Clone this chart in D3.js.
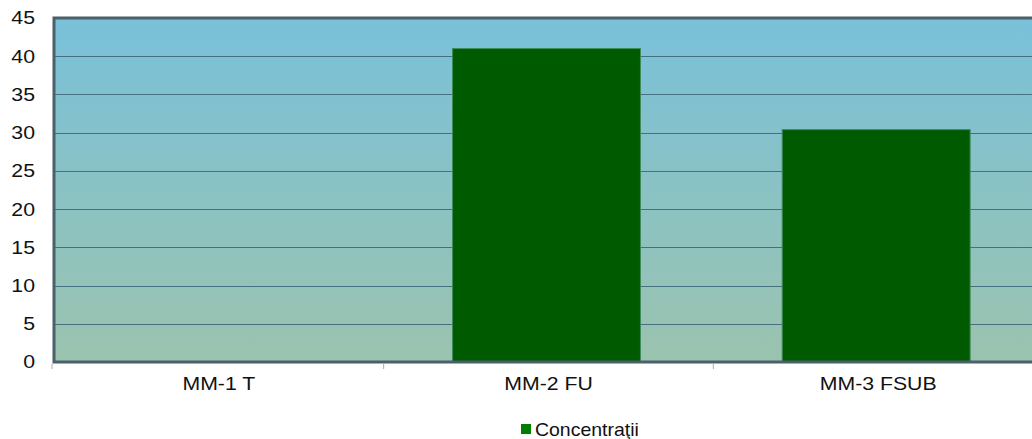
<!DOCTYPE html>
<html>
<head>
<meta charset="utf-8">
<script src="https://d3js.org/d3.v7.min.js"></script>
<style>
  body { margin: 0; background: #fff; }
  text { font-family: "Liberation Sans", Arial, sans-serif; }
</style>
</head>
<body>
<script>
// chart data
var categories = ["MM-1 T", "MM-2 FU", "MM-3 FSUB"];
var values = [0, 41, 30.4];
var yTicks = [0, 5, 10, 15, 20, 25, 30, 35, 40, 45];
var seriesName = "Concentraţii";

var width = 1032, height = 439;
var plotLeft = 54, plotTop = 18, plotRight = 1043, plotBottom = 362;
var stretch = 1.15; // text in the original looks a bit wide

var svg = d3.select("body").append("svg")
  .attr("width", width)
  .attr("height", height);

var defs = svg.append("defs");
var grad = defs.append("linearGradient")
  .attr("id", "bg").attr("x1", 0).attr("y1", 0).attr("x2", 0).attr("y2", 1);
grad.append("stop").attr("offset", "0%").attr("stop-color", "#79c1da");
grad.append("stop").attr("offset", "100%").attr("stop-color", "#9bc3ae");

var x = d3.scaleBand().domain(categories).range([plotLeft - 2, plotRight - 2]).paddingInner(0.43).paddingOuter(0.215);
var band = d3.scaleBand().domain(categories).range([plotLeft, plotRight]);
var y = d3.scaleLinear().domain([0, 45]).range([plotBottom, plotTop]);

// plot background
svg.append("rect")
  .attr("x", plotLeft).attr("y", plotTop)
  .attr("width", plotRight - plotLeft).attr("height", plotBottom - plotTop)
  .attr("fill", "url(#bg)");

// gridlines
svg.append("g").selectAll("line")
  .data(yTicks.filter(function(d) { return d > 0 && d < 45; }))
  .enter().append("line")
  .attr("x1", plotLeft).attr("x2", plotRight)
  .attr("y1", function(d) { return Math.round(y(d)) + 0.5; })
  .attr("y2", function(d) { return Math.round(y(d)) + 0.5; })
  .attr("stroke", "#46707f").attr("stroke-width", 1.2);

// bars
svg.append("g").selectAll("rect")
  .data(values)
  .enter().append("rect")
  .attr("x", function(d, i) { return x(categories[i]); })
  .attr("y", function(d) { return y(d); })
  .attr("width", x.bandwidth())
  .attr("height", function(d) { return plotBottom - y(d); })
  .attr("fill", "#005a00")
  .attr("stroke", function(d) { return d > 0 ? "#3f8a5a" : "none"; })
  .attr("stroke-width", 1);

// frame: left, top, bottom
svg.append("path")
  .attr("d", "M" + plotRight + "," + plotTop + "H" + plotLeft + "V" + plotBottom + "H" + plotRight)
  .attr("fill", "none")
  .attr("stroke", "#4b606b")
  .attr("stroke-width", 3);

// y axis labels
var yAxis = d3.axisLeft(y).tickValues(yTicks).tickSize(0).tickPadding(0);
var gy = svg.append("g").attr("transform", "translate(" + plotLeft + ",0)").call(yAxis);
gy.select(".domain").remove();
gy.selectAll("text")
  .attr("x", 0)
  .attr("transform", "translate(-19,0) scale(" + stretch + ",1)")
  .attr("font-size", 18.5)
  .attr("fill", "#111")
  .style("font-family", "'Liberation Sans', Arial, sans-serif");

// x axis
var gx = svg.append("g").attr("transform", "translate(0," + (plotBottom + 2) + ")");
gx.selectAll("line")
  .data(categories.slice(1))
  .enter().append("line")
  .attr("x1", function(d) { return band(d); })
  .attr("x2", function(d) { return band(d); })
  .attr("y1", 0).attr("y2", 5)
  .attr("stroke", "#aaa");
gx.append("line").attr("x1", plotLeft - 2).attr("x2", plotLeft - 2).attr("y1", 0).attr("y2", 5).attr("stroke", "#aaa");
gx.selectAll("text")
  .data(categories)
  .enter().append("text")
  .attr("transform", function(d) {
    return "translate(" + (band(d) + band.bandwidth() / 2) + ",26) scale(" + stretch + ",1)";
  })
  .attr("text-anchor", "middle")
  .attr("font-size", 18.5)
  .attr("fill", "#111")
  .text(function(d) { return d; });

// legend
var lg = svg.append("g").attr("transform", "translate(521,424)");
lg.append("rect").attr("x", 0).attr("y", 0).attr("width", 10).attr("height", 10).attr("fill", "#008000");
lg.append("text")
  .attr("transform", "translate(14,12) scale(1.1,1)")
  .attr("font-size", 17.7).attr("fill", "#111").text(seriesName);
</script>
</body>
</html>
